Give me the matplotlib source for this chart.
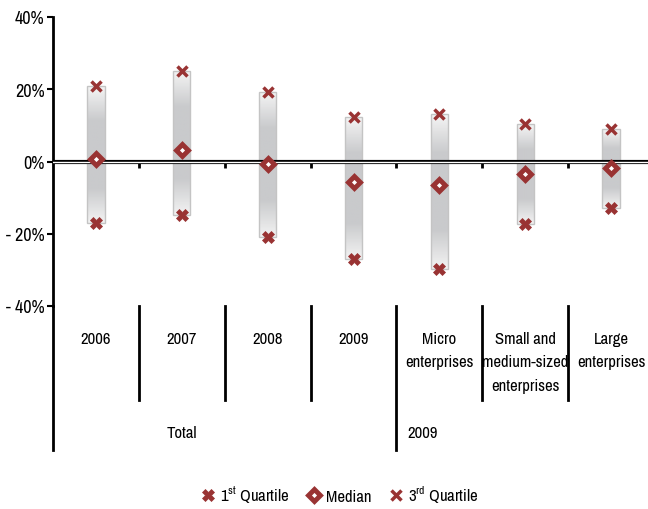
import matplotlib
matplotlib.use("Agg")
import matplotlib.pyplot as plt
import numpy as np
from matplotlib.colors import LinearSegmentedColormap
from matplotlib.lines import Line2D

categories = ["2006", "2007", "2008", "2009", "Micro\nenterprises",
              "Small and\nmedium-sized\nenterprises", "Large\nenterprises"]
groups = ["Total", "2009"]
q1 = [-0.169, -0.149, -0.209, -0.269, -0.298, -0.172, -0.128]
median = [0.006, 0.031, -0.007, -0.058, -0.066, -0.035, -0.018]
q3 = [0.208, 0.250, 0.193, 0.124, 0.131, 0.103, 0.091]
ytick_vals = [-0.4, -0.2, 0.0, 0.2, 0.4]
ytick_labels = ["- 40%", "- 20%", "0%", "20%", "40%"]

plt.rcParams["font.family"] = ["Archivo Narrow", "Liberation Sans", "DejaVu Sans"]
plt.rcParams["mathtext.fontset"] = "custom"
plt.rcParams["mathtext.rm"] = "Archivo Narrow"
fs = 12
red = "#993333"

fig = plt.figure(figsize=(6.48, 5.10), dpi=100)
ax = fig.add_axes([53 / 648, 1 - 307 / 510, (654 - 53) / 648, (307 - 18) / 510])

x = np.arange(len(categories))
bw = 0.2
grad = LinearSegmentedColormap.from_list("g", ["#f4f4f4", "#c9cacc", "#c9cacc", "#c9cacc", "#f2f2f2"])
bars = ax.bar(x, np.array(q3) - np.array(q1), bottom=q1, width=bw,
              color="none", edgecolor="#c4c4c4", linewidth=1, zorder=2)
gimg = np.linspace(0, 1, 100).reshape(-1, 1)
for b in bars:
    x0, y0 = b.get_x(), b.get_y()
    im = ax.imshow(gimg, cmap=grad, aspect="auto", origin="upper",
                   extent=[x0, x0 + b.get_width(), y0, y0 + b.get_height()], zorder=1)
    im.set_clip_path(b)

ax.axhline(0, color="black", lw=3.0, zorder=3)
ax.axhline(0, color="white", lw=1.0, zorder=3)

ax.plot(x, q1, ls="none", marker="X", ms=8, mfc=red, mec=red, mew=0.5, zorder=4)
ax.plot(x, q3, ls="none", marker="x", ms=7, mec=red, mew=2.5, zorder=4)
ax.plot(x, median, ls="none", marker="D", ms=6.5, mfc="white", mec=red, mew=3.5, zorder=4)

ax.set_xlim(-0.5, len(categories) - 0.5)
ax.set_ylim(-0.4, 0.4)
ax.set_yticks(ytick_vals)
ax.set_yticklabels(ytick_labels, fontsize=13)
ax.tick_params(axis="y", direction="out", length=4, width=1.5, pad=2)

ax.spines["top"].set_visible(False)
ax.spines["right"].set_visible(False)
ax.spines["left"].set_linewidth(2)
ax.spines["bottom"].set_position(("data", 0))
ax.spines["bottom"].set_visible(False)
ax.set_xticks(x[:-1] + 0.5)
ax.set_xticklabels([])
ax.tick_params(axis="x", direction="out", length=4, width=2, pad=0)

# table under the plot
tr = ax.get_xaxis_transform()
for i, xb in enumerate(x[:-1] + 0.5):
    low = -0.498 if i == 3 else -0.325
    ax.plot([xb, xb], [0, low], color="black", lw=2, transform=tr, clip_on=False)
ax.plot([-0.5, -0.5], [0, -0.498], color="black", lw=2, transform=tr, clip_on=False)

for xi, lab in zip(x, categories):
    ax.text(xi, -0.085, lab, transform=tr, ha="center", va="top", fontsize=fs,
            linespacing=1.72)
ax.text(1.0, -0.436, groups[0], transform=tr, ha="center", va="center", fontsize=fs)
ax.text(3.8, -0.436, groups[1], transform=tr, ha="center", va="center", fontsize=fs)

handles = [
    Line2D([], [], ls="none", marker="X", ms=8, mfc=red, mec=red, mew=0.5),
    Line2D([], [], ls="none", marker="D", ms=6.5, mfc="white", mec=red, mew=3.5),
    Line2D([], [], ls="none", marker="x", ms=7, mec=red, mew=2.5),
]
fig.legend(handles, ["1$^{\\rm st}$ Quartile", "Median", "3$^{\\rm rd}$ Quartile"],
           loc="center", bbox_to_anchor=(340 / 648, 1 - 495 / 510), ncol=3, frameon=False,
           fontsize=fs, handlelength=0.8, handletextpad=0.3, columnspacing=1.1)

fig.savefig("out.png", dpi=100)
